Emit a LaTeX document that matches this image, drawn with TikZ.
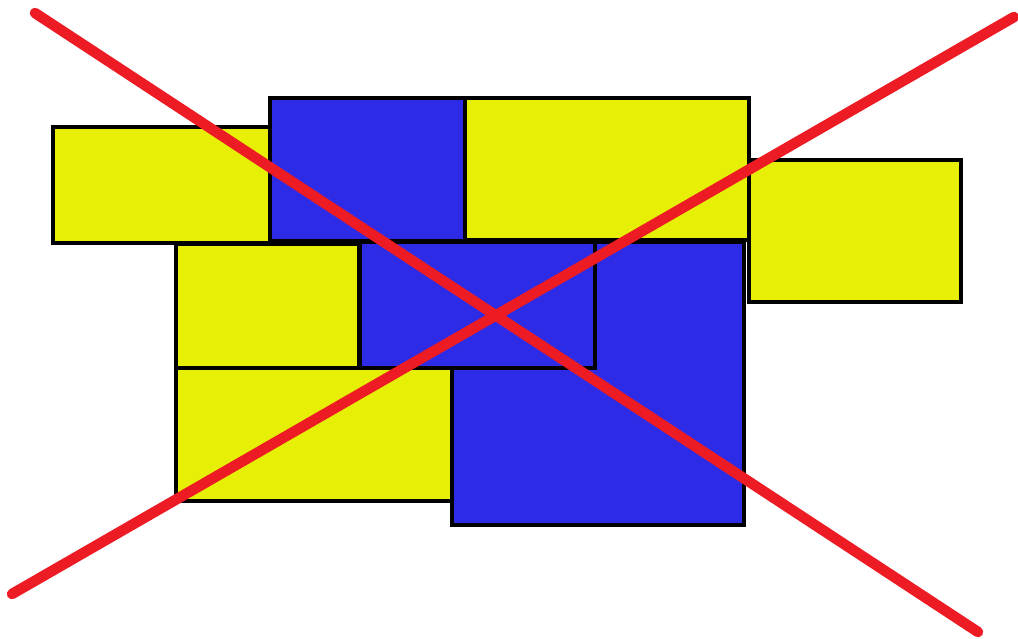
\documentclass[tikz,border=0pt]{standalone}
\usepackage{xcolor}
\usepackage{tikz}
\definecolor{brickyellow}{RGB}{230,239,5}
\definecolor{brickblue}{RGB}{45,43,230}
\definecolor{crossred}{RGB}{237,28,36}

\begin{document}
\begin{tikzpicture}[
    x=0.02cm, y=-0.02cm,
    yellowbrick/.style={fill=brickyellow, draw=black, line width=1.8pt},
    bluebrick/.style={fill=brickblue, draw=black, line width=1.8pt},
    crossline/.style={draw=crossred, line width=6pt, line cap=round},
]
    \useasboundingbox (0,0) rectangle (1018,639);

    % Top row
    \filldraw[yellowbrick] (53,127) rectangle (270,243);
    \filldraw[bluebrick] (270,98) rectangle (465,241);
    \filldraw[yellowbrick] (465,98) rectangle (749,240);
    \filldraw[yellowbrick] (749,160) rectangle (961,302);

    % Big blue block, partly under the middle one
    \filldraw[bluebrick] (452,242) rectangle (744,525);

    % Middle row
    \filldraw[yellowbrick] (176,244) rectangle (359,368);
    \filldraw[bluebrick] (360,242) rectangle (595,368);

    % Bottom left
    \filldraw[yellowbrick] (176,368) rectangle (452,501);

    % Red cross
    \coordinate (tl) at (35,13);
    \coordinate (br) at (978,632);
    \coordinate (bl) at (12,594);
    \coordinate (tr) at (1014,17);
    \draw[crossline] (tl) -- (br);
    \draw[crossline] (bl) -- (tr);
\end{tikzpicture}
\end{document}
